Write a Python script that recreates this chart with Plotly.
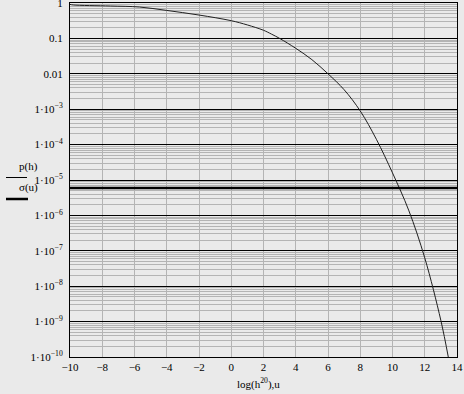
import plotly.graph_objects as go

# data
h_x = [-10, -9.8, -7.5, -5.7, -4, -2, 0, 1, 2, 2.5, 3, 4, 5, 6, 7, 8, 9, 10, 11, 12, 13, 13.46]
p_log = [-0.04, -0.056, -0.085, -0.113, -0.21, -0.34, -0.5, -0.62, -0.77, -0.88, -1.0, -1.28,
         -1.6, -2.0, -2.45, -3.05, -3.85, -4.8, -5.85, -7.2, -8.97, -10.0]
p_h = [10 ** v for v in p_log]

u_x = [-10, 14]
sigma_u = [5.9e-6, 5.9e-6]

y_tickvals = [10 ** -k for k in range(0, 11)]
y_ticktext = ["1", "0.1", "0.01"] + ["1·10<sup>−%d</sup>" % k for k in range(3, 11)]
x_tickvals = list(range(-10, 15, 2))
x_ticktext = [("−%d" % -v) if v < 0 else str(v) for v in x_tickvals]

W, H = 464, 394
L, R, T, B = 70, 7, 3, 37
BG = "#EAEAEA"
FONT = "Liberation Serif"
FS = 11


def px(xp):
    return (xp - L) / (W - L - R)


def py(yp):
    return 1 - (yp - T) / (H - T - B)


fig = go.Figure()
fig.add_trace(go.Scatter(x=h_x, y=p_h, mode="lines",
                         line=dict(color="#202020", width=1, shape="spline", smoothing=1.0),
                         showlegend=False))
fig.add_trace(go.Scatter(x=u_x, y=sigma_u, mode="lines",
                         line=dict(color="#000000", width=2.5), showlegend=False))

fig.update_layout(
    width=W, height=H,
    margin=dict(l=L, r=R, t=T, b=B, autoexpand=False),
    paper_bgcolor=BG, plot_bgcolor=BG,
    font=dict(family=FONT, size=FS, color="black"),
    xaxis=dict(range=[-10, 14], tickvals=x_tickvals, ticktext=x_ticktext,
               showgrid=True, gridcolor="#B4B4B4", gridwidth=1, automargin=False,
               zeroline=False, showline=True, linecolor="black", linewidth=1,
               mirror=True, ticks="", ticklabeloverflow="allow",
               tickfont=dict(family=FONT, size=FS)),
    yaxis=dict(type="log", range=[-10, 0], tickvals=y_tickvals, ticktext=y_ticktext,
               showgrid=True, gridcolor="black", gridwidth=1, automargin=False,
               zeroline=False, showline=True, linecolor="black", linewidth=1,
               mirror=True, ticks="", ticklabelstandoff=4, ticklabeloverflow="allow",
               tickfont=dict(family=FONT, size=FS),
               minor=dict(showgrid=True, gridcolor="#B4B4B4", gridwidth=1,
                          dtick="D1", ticks="")),
)

# y-axis title (Mathcad style stacked expressions with trace styles)
fig.add_annotation(x=px(17), y=py(167), xref="paper", yref="paper", text="p(h)",
                   showarrow=False, font=dict(family=FONT, size=FS))
fig.add_annotation(x=px(17), y=py(187), xref="paper", yref="paper", text="σ(u)",
                   showarrow=False, font=dict(family=FONT, size=FS))
fig.add_shape(type="line", xref="paper", yref="paper", x0=px(6), x1=px(27),
              y0=py(177.5), y1=py(177.5), line=dict(color="black", width=1))
fig.add_shape(type="line", xref="paper", yref="paper", x0=px(6), x1=px(28),
              y0=py(199), y1=py(199), line=dict(color="black", width=2.5))

# x-axis title
fig.add_annotation(x=px(258), y=py(374), xref="paper", yref="paper", yanchor="top",
                   text="log(h<sup>20</sup>),u", showarrow=False,
                   font=dict(family=FONT, size=FS))

fig.write_html("out.html", config={"displayModeBar": False},
               post_script="document.body.style.margin='0';document.body.style.overflow='hidden';")
